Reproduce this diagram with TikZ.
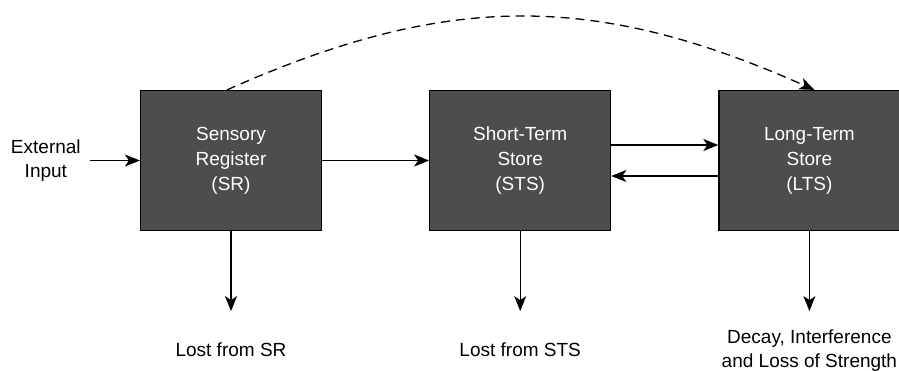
\documentclass[tikz,border=0pt]{standalone}
\usepackage{fontspec}
\setmainfont{Liberation Sans}
\usetikzlibrary{positioning,arrows.meta}
\definecolor{storegray}{RGB}{77,77,77}

\begin{document}
\begin{tikzpicture}[
    node distance=107pt,
    store/.style={
        rectangle,
        draw=black,
        fill=storegray,
        line width=1.2pt,
        minimum width=181pt,
        minimum height=140pt,
        align=center,
        text=white,
        font=\fontsize{19}{25}\selectfont
    },
    outlabel/.style={
        align=center,
        inner sep=0pt,
        font=\fontsize{19}{24}\selectfont
    },
    arrow/.style={-{Stealth[length=15pt,width=12pt,inset=4pt]}, line width=1.3pt, black}
]
\useasboundingbox (0,0) rectangle (899pt,-370pt);

\node[store] (sr) at (231pt,-160.5pt) {Sensory\\Register\\(SR)};
\node[store, right=of sr] (sts) {Short-Term\\Store\\(STS)};
\node[store, right=of sts] (lts) {Long-Term\\Store\\(LTS)};

\node[outlabel, left=50pt of sr, inner xsep=9pt] (input) {External\\Input};

\coordinate[below=80pt of sr] (srend);
\coordinate[below=80pt of sts] (stsend);
\coordinate[below=80pt of lts] (ltsend);
\node[outlabel] (srlost) at ([yshift=-39pt]srend) {Lost from SR};
\node[outlabel] (stslost) at ([yshift=-39pt]stsend) {Lost from STS};
\node[outlabel] (ltslost) at ([yshift=-39pt]ltsend) {Decay, Interference\\and Loss of Strength};

\draw[arrow] (input) -- (sr);
\draw[arrow] (sr) -- (sts);
\draw[arrow] ([yshift=15.5pt]sts.east) -- ([yshift=15.5pt]lts.west);
\draw[arrow] ([yshift=-15.5pt]lts.west) -- ([yshift=-15.5pt]sts.east);
\draw[arrow] (sr) -- (srend);
\draw[arrow] (sts) -- (stsend);
\draw[arrow] (lts) -- (ltsend);
\draw[arrow, dash pattern=on 9pt off 6pt] ([xshift=-4pt]sr.north) to[out=24, in=156, looseness=1.05] ([xshift=5pt]lts.north);
\end{tikzpicture}
\end{document}
